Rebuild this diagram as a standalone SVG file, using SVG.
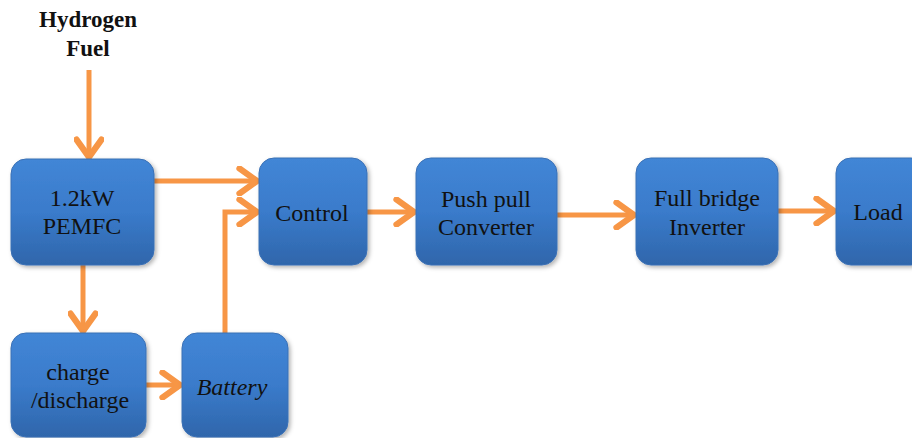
<svg xmlns="http://www.w3.org/2000/svg" width="912" height="438" viewBox="0 0 912 438">
<defs>
<linearGradient id="g" x1="0" y1="0" x2="0" y2="1">
<stop offset="0" stop-color="#4286d6"/>
<stop offset="0.5" stop-color="#3a7bcb"/>
<stop offset="1" stop-color="#2f66ab"/>
</linearGradient>
<filter id="sh" x="-10%" y="-10%" width="125%" height="125%">
<feDropShadow dx="2" dy="2" stdDeviation="2" flood-color="#000" flood-opacity="0.3"/>
</filter>
<marker id="ah" markerUnits="userSpaceOnUse" markerWidth="30" markerHeight="30" refX="18" refY="12" orient="auto" viewBox="0 0 24 24">
<path d="M4,2 L18,12 L4,22" fill="none" stroke="#f79646" stroke-width="5" stroke-linecap="round" stroke-linejoin="miter"/>
</marker>
</defs>
<style>
.box{fill:url(#g);stroke:#3a70b5;stroke-width:1;filter:url(#sh)}
.t{font-family:'Liberation Serif','Times New Roman',serif;font-size:24px;fill:#111;text-anchor:middle}
.h{font-family:'Liberation Serif','Times New Roman',serif;font-size:23px;font-weight:bold;fill:#111;text-anchor:middle}
.c{fill:none;stroke:#f79646;stroke-width:5;marker-end:url(#ah)}
</style>
<g id="label-hydrogen">
<text class="h" x="88" y="27">Hydrogen</text>
<text class="h" x="88" y="56">Fuel</text>
</g>
<g id="connectors">
<path class="c" d="M89,70 V157"/>
<path class="c" d="M154,181 H257"/>
<path class="c" d="M225,333 V212 H257"/>
<path class="c" d="M367,212 H414"/>
<path class="c" d="M557,215 H634"/>
<path class="c" d="M778,211 H834"/>
<path class="c" d="M83,265 V331"/>
<path class="c" d="M146,385 H180"/>
</g>
<g id="pemfc">
<rect class="box" x="11" y="159" width="143" height="106" rx="15"/>
<text class="t" x="82" y="206">1.2kW</text>
<text class="t" x="82" y="234">PEMFC</text>
</g>
<g id="control">
<rect class="box" x="259" y="158" width="108" height="107" rx="15"/>
<text class="t" x="312" y="221">Control</text>
</g>
<g id="pushpull">
<rect class="box" x="416" y="158" width="141" height="107" rx="15"/>
<text class="t" x="486" y="207">Push pull</text>
<text class="t" x="486" y="235">Converter</text>
</g>
<g id="fullbridge">
<rect class="box" x="636" y="158" width="142" height="107" rx="15"/>
<text class="t" x="707" y="206">Full bridge</text>
<text class="t" x="707" y="235">Inverter</text>
</g>
<g id="load">
<rect class="box" x="836" y="158" width="90" height="107" rx="15"/>
<text class="t" x="878" y="220">Load</text>
</g>
<g id="chargedischarge">
<rect class="box" x="11" y="333" width="135" height="104" rx="15"/>
<text class="t" x="78" y="380">charge</text>
<text class="t" x="80" y="408">/discharge</text>
</g>
<g id="battery">
<rect class="box" x="182" y="333" width="106" height="104" rx="15"/>
<text class="t" x="232" y="395" font-style="italic">Battery</text>
</g>
</svg>
